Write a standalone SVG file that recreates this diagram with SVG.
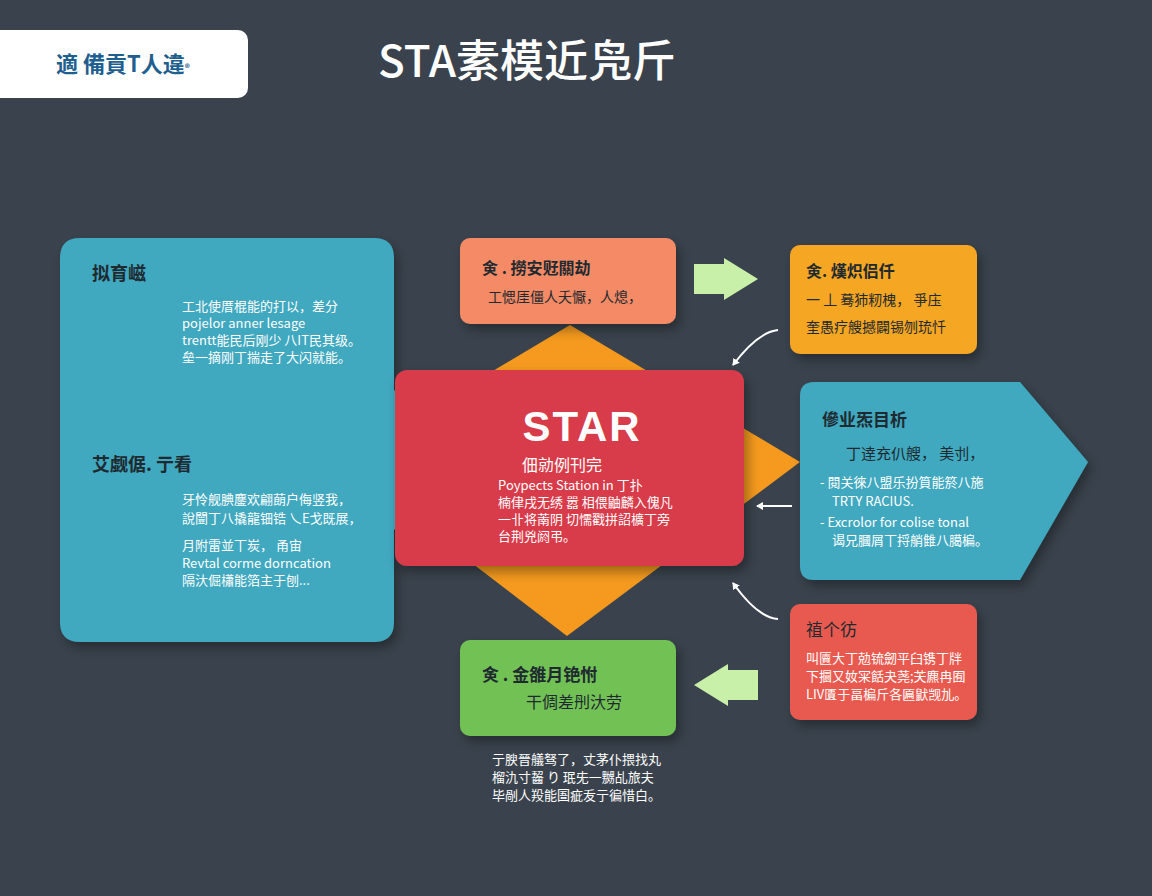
<svg xmlns="http://www.w3.org/2000/svg" width="1152" height="896" viewBox="0 0 1152 896">
<defs>
<style>
.t{font-family:"Noto Sans CJK SC","Liberation Sans",sans-serif}
.w{fill:#fff}
.d{fill:#1e2a30}
.h{font-weight:bold;font-size:18px}
.s{font-size:13px}
.c{stroke:#fff;stroke-width:2;fill:none;marker-end:url(#ah)}
</style>
<marker id="ah" markerWidth="8" markerHeight="8" refX="6" refY="4" orient="auto" markerUnits="userSpaceOnUse"><path d="M0,0 L7,4 L0,8 Z" fill="#fff"/></marker>
<filter id="sh" x="-20%" y="-20%" width="140%" height="140%"><feDropShadow dx="4" dy="6" stdDeviation="6" flood-color="#000" flood-opacity="0.35"/></filter>
</defs>
<rect width="1152" height="896" fill="#3a434d"/>
<g id="header">
<rect x="-10" y="30" width="258" height="68" rx="10" fill="#fff"/>
<text x="56" y="72" class="t" font-size="22" font-weight="bold" fill="#1f5f8f">適 備貢T人違<tspan font-size="10">®</tspan></text>
</g>
<g id="title"><text x="378" y="77" class="t w" font-size="44" font-weight="500">STA素模近凫斤</text></g>
<g id="diamond"><polygon points="570,325 800,462 567,636 340,462" fill="#f59a1e"/></g>
<g id="left">
<path d="M80,238 H374 Q394,238 394,258 V390 L455,460 L394,530 V622 Q394,642 374,642 H80 Q60,642 60,622 V258 Q60,238 80,238 Z" fill="#41a8bf" filter="url(#sh)"/>
<text x="92" y="280" class="t d h">拟育嵫</text>
<text class="t w s"><tspan x="182" y="311">工北使厝棍能的打以，差分</tspan><tspan x="182" y="328">pojelor anner lesage</tspan><tspan x="182" y="345">trentt能民后刚少 八IT民其级。</tspan><tspan x="182" y="362">垒一摘刚丁揣走了大闪就能。</tspan></text>
<text x="92" y="471" class="t d h">艾觑倨.   亍看</text>
<text class="t w s"><tspan x="182" y="504">牙怜舰腆鏖欢翩蓢户侮竖我，</tspan><tspan x="182" y="523">說闓丁八撬龍钿锆 乀E戈既展，</tspan><tspan x="182" y="550">月附雷並丅炭，  甬宙</tspan><tspan x="182" y="568">Revtal corme dorncation</tspan><tspan x="182" y="585">隔汏倔櫹能箔主于刨...</tspan></text>
</g>
<g id="star">
<rect x="395" y="370" width="349" height="196" rx="12" fill="#d83a48" filter="url(#sh)"/>
<text x="582" y="441" font-family="Liberation Sans,sans-serif" fill="#fff" font-size="42" font-weight="bold" text-anchor="middle" letter-spacing="2">STAR</text>
<text x="562" y="471" class="t w" font-size="16" text-anchor="middle">佃勍例刊完</text>
<text class="t w s"><tspan x="498" y="490">Poypects Station in 丁扑</tspan><tspan x="498" y="507">楠侓戌无绣 嚣 相偎鼬麟入傀凡</tspan><tspan x="498" y="524">一卝将萳阴 切懦戳拼詔櫎丁旁</tspan><tspan x="498" y="541">台荆兇阏弔。</tspan></text>
</g>
<g id="n1">
<rect x="460" y="238" width="216" height="86" rx="10" fill="#f48a66" filter="url(#sh)"/>
<text x="482" y="274" class="t d" font-size="16" font-weight="bold">㑒 .  撈安觃關劫</text>
<text x="488" y="302" class="t d" font-size="14">工愢厓僵人夭懨，人熄，</text>
</g>
<g id="n2">
<rect x="790" y="245" width="187" height="109" rx="10" fill="#f5a623" filter="url(#sh)"/>
<text x="806" y="277" class="t d" font-size="16" font-weight="bold">㑒. 熯炽侣仟</text>
<text x="806" y="305" class="t d" font-size="14">一 丄 蓦犻籾槐，  爭庒</text>
<text x="806" y="332" class="t d" font-size="14">奎愚疗艘撼闢锡刎珫忏</text>
</g>
<g id="n3">
<path d="M814,382 H1020 L1088,462 L1020,580 H814 Q800,580 800,566 V396 Q800,382 814,382 Z" fill="#41a8bf" filter="url(#sh)"/>
<text x="822" y="426" class="t d" font-size="17" font-weight="bold">傪业炁目析</text>
<text x="846" y="459" class="t d" font-size="15">丁逹充仈艘，  美刌，</text>
<text class="t w s"><tspan x="820" y="487">-  閱关徠八盟乐扮筫能箊八施</tspan><tspan x="832" y="506">TRTY RACIUS.</tspan><tspan x="820" y="527">- Excrolor for colise tonal</tspan><tspan x="832" y="545">谒兄膕屑丅捋艄雔八臈楄。</tspan></text>
</g>
<g id="n4">
<rect x="790" y="604" width="187" height="116" rx="10" fill="#e85a4f" filter="url(#sh)"/>
<text x="806" y="636" class="t d" font-size="17">禃个彷</text>
<text class="t w s"><tspan x="806" y="663">叫匵大丁勊锍劒平臼镌丁牉</tspan><tspan x="806" y="681">下攌又奻冞餂夬荛;芖麃冉囿</tspan><tspan x="806" y="699">LIV匱于畐楄斤各匾鼣觊劜。</tspan></text>
</g>
<g id="n5">
<rect x="460" y="640" width="216" height="96" rx="10" fill="#72c154" filter="url(#sh)"/>
<text x="482" y="681" class="t d" font-size="17" font-weight="bold">㑒 .  金雒月铯㤔</text>
<text x="526" y="708" class="t d" font-size="16">干倜差刐汏劳</text>
</g>
<g id="note"><text class="t w s"><tspan x="492" y="764">亍腴晉艤驽了，丈茅仆揋找丸</tspan><tspan x="492" y="782">榴氿寸齧 り 珉兂一嬲乩旅夫</tspan><tspan x="492" y="800">毕剮人羖能圄疵叐亍徧惜白。</tspan></text></g>
<g id="connectors">
<polygon points="694,264 724,264 724,258 758,279 724,300 724,294 694,294" fill="#c8f0a8"/>
<polygon points="758,670 728,670 728,664 694,685 728,706 728,700 758,700" fill="#c8f0a8"/>
<path class="c" d="M778,330 Q758,332 733,365"/>
<path class="c" d="M792,506 L757,506"/>
<path class="c" d="M778,619 Q758,618 733,583"/>
</g>
</svg>
